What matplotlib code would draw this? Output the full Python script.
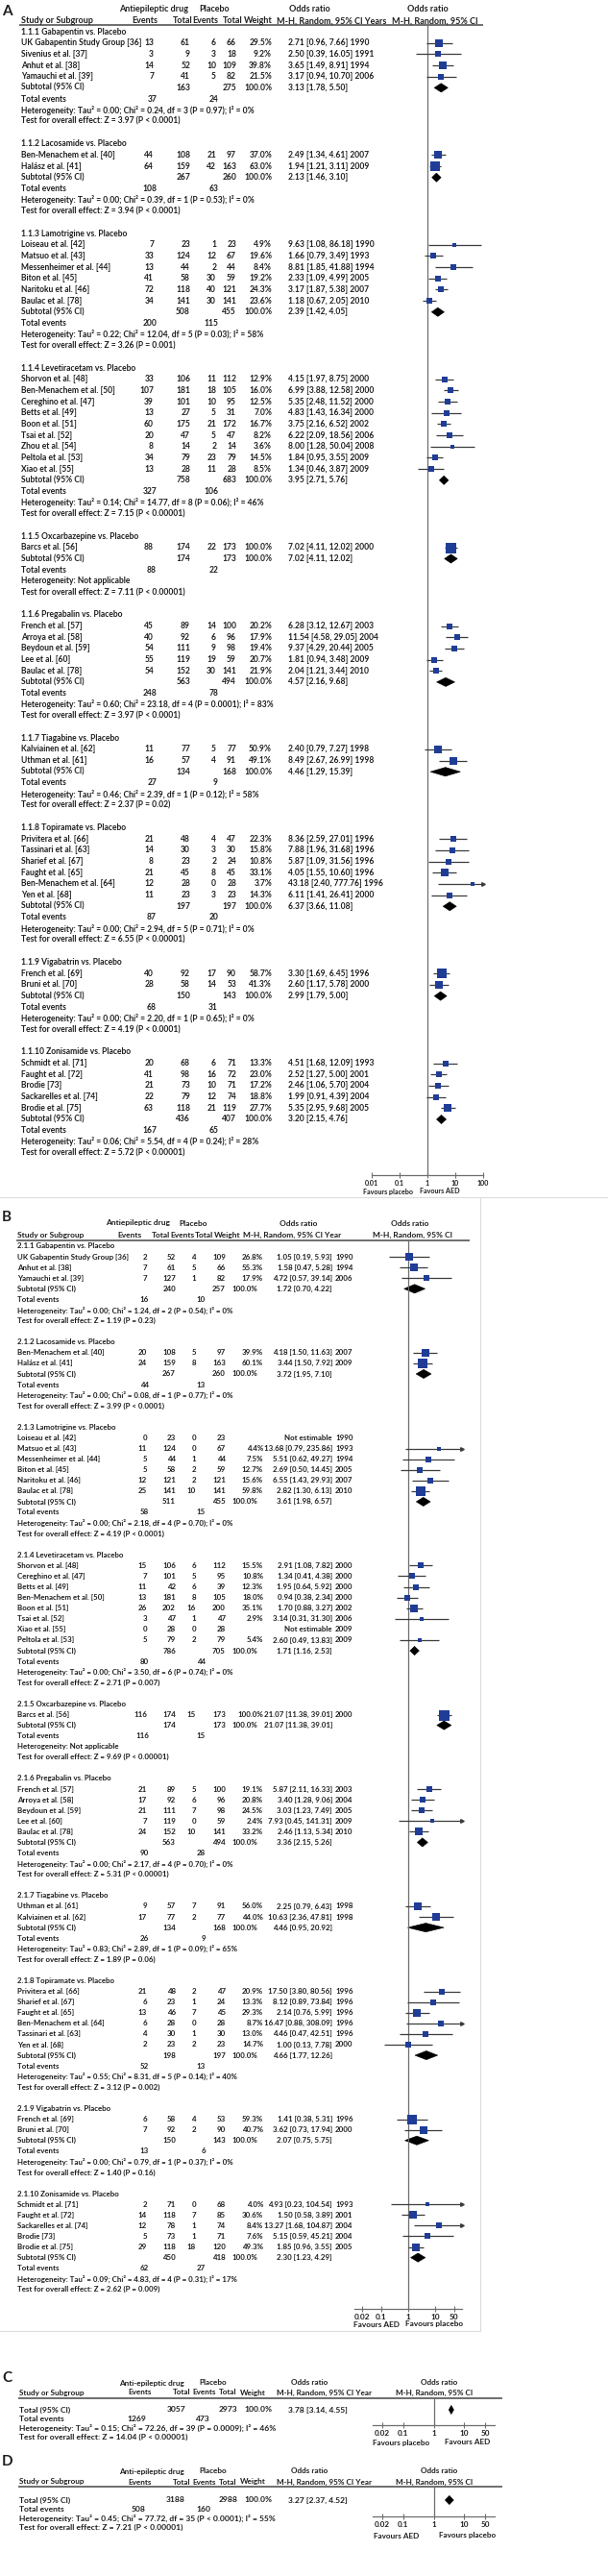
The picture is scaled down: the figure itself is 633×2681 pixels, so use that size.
import numpy as np
import matplotlib
matplotlib.use("Agg")
import matplotlib.pyplot as plt
from matplotlib.lines import Line2D
from matplotlib.patches import Polygon
from matplotlib.ticker import NullLocator
from matplotlib.transforms import blended_transform_factory

plt.rcParams['font.family'] = ['Lato', 'DejaVu Sans']

W, H = 633, 2681
INK = "#1e1e1e"; BLUE = "#1f3d96"; CIC = "#3c3c3c"; RULE = "#6e6e6e"; FRAME = "#dcdcdc"

# ---------------- panel A : responder rate ----------------
A_groups = ["1.1.1 Gabapentin vs. Placebo", "1.1.2 Lacosamide vs. Placebo", "1.1.3 Lamotrigine vs. Placebo",
            "1.1.4 Levetiracetam vs. Placebo", "1.1.5 Oxcarbazepine vs. Placebo", "1.1.6 Pregabalin vs. Placebo",
            "1.1.7 Tiagabine vs. Placebo", "1.1.8 Topiramate vs. Placebo", "1.1.9 Vigabatrin vs. Placebo",
            "1.1.10 Zonisamide vs. Placebo"]
A_study = ["UK Gabapentin Study Group [36]", "Sivenius et al. [37]", "Anhut et al. [38]", "Yamauchi et al. [39]",
           "Ben-Menachem et al. [40]", "Halász et al. [41]",
           "Loiseau et al. [42]", "Matsuo et al. [43]", "Messenheimer et al. [44]", "Biton et al. [45]",
           "Naritoku et al. [46]", "Baulac et al. [78]",
           "Shorvon et al. [48]", "Ben-Menachem et al. [50]", "Cereghino et al. [47]", "Betts et al. [49]",
           "Boon et al. [51]", "Tsai et al. [52]", "Zhou et al. [54]", "Peltola et al. [53]", "Xiao et al. [55]",
           "Barcs et al. [56]",
           "French et al. [57]", "Arroya et al. [58]", "Beydoun et al. [59]", "Lee et al. [60]", "Baulac et al. [78]",
           "Kalviainen et al. [62]", "Uthman et al. [61]",
           "Privitera et al. [66]", "Tassinari et al. [63]", "Sharief et al. [67]", "Faught et al. [65]",
           "Ben-Menachem et al. [64]", "Yen et al. [68]",
           "French et al. [69]", "Bruni et al. [70]",
           "Schmidt et al. [71]", "Faught et al. [72]", "Brodie [73]", "Sackarelles et al. [74]", "Brodie et al. [75]"]
A_grp = [0, 0, 0, 0, 1, 1, 2, 2, 2, 2, 2, 2, 3, 3, 3, 3, 3, 3, 3, 3, 3, 4, 5, 5, 5, 5, 5, 6, 6,
         7, 7, 7, 7, 7, 7, 8, 8, 9, 9, 9, 9, 9]
A_ev1 = [13, 3, 14, 7, 44, 64, 7, 33, 13, 41, 72, 34, 33, 107, 39, 13, 60, 20, 8, 34, 13, 88,
         45, 40, 54, 55, 54, 11, 16, 21, 14, 8, 21, 12, 11, 40, 28, 20, 41, 21, 22, 63]
A_n1 = [61, 9, 52, 41, 108, 159, 23, 124, 44, 58, 118, 141, 106, 181, 101, 27, 175, 47, 14, 79, 28, 174,
        89, 92, 111, 119, 152, 77, 57, 48, 30, 23, 45, 28, 23, 92, 58, 68, 98, 73, 79, 118]
A_ev2 = [6, 3, 10, 5, 21, 42, 1, 12, 2, 30, 40, 30, 11, 18, 10, 5, 21, 5, 2, 23, 11, 22,
         14, 6, 9, 19, 30, 5, 4, 4, 3, 2, 8, 0, 3, 17, 14, 6, 16, 10, 12, 21]
A_n2 = [66, 18, 109, 82, 97, 163, 23, 67, 44, 59, 121, 141, 112, 105, 95, 31, 172, 47, 14, 79, 28, 173,
        100, 96, 98, 59, 141, 77, 91, 47, 30, 24, 45, 28, 23, 90, 53, 71, 72, 71, 74, 119]
A_wt = [29.5, 9.2, 39.8, 21.5, 37.0, 63.0, 4.9, 19.6, 8.4, 19.2, 24.3, 23.6, 12.9, 16.0, 12.5, 7.0, 16.7,
        8.2, 3.6, 14.5, 8.5, 100.0, 20.2, 17.9, 19.4, 20.7, 21.9, 50.9, 49.1, 22.3, 15.8, 10.8, 33.1, 3.7,
        14.3, 58.7, 41.3, 13.3, 23.0, 17.2, 18.8, 27.7]
A_or = [2.71, 2.50, 3.65, 3.17, 2.49, 1.94, 9.63, 1.66, 8.81, 2.33, 3.17, 1.18, 4.15, 6.99, 5.35, 4.83,
        3.75, 6.22, 8.00, 1.84, 1.34, 7.02, 6.28, 11.54, 9.37, 1.81, 2.04, 2.40, 8.49, 8.36, 7.88, 5.87,
        4.05, 43.18, 6.11, 3.30, 2.60, 4.51, 2.52, 2.46, 1.99, 5.35]
A_lo = [0.96, 0.39, 1.49, 0.94, 1.34, 1.21, 1.08, 0.79, 1.85, 1.09, 1.87, 0.67, 1.97, 3.88, 2.48, 1.43,
        2.16, 2.09, 1.28, 0.95, 0.46, 4.11, 3.12, 4.58, 4.29, 0.94, 1.21, 0.79, 2.67, 2.59, 1.96, 1.09,
        1.55, 2.40, 1.41, 1.69, 1.17, 1.68, 1.27, 1.06, 0.91, 2.95]
A_hi = [7.66, 16.05, 8.91, 10.70, 4.61, 3.11, 86.18, 3.49, 41.88, 4.99, 5.38, 2.05, 8.75, 12.58, 11.52,
        16.34, 6.52, 18.56, 50.04, 3.55, 3.87, 12.02, 12.67, 29.05, 20.44, 3.48, 3.44, 7.27, 26.99, 27.01,
        31.68, 31.56, 10.60, 777.76, 26.41, 6.45, 5.78, 12.09, 5.00, 5.70, 4.39, 9.68]
A_year = [1990, 1991, 1994, 2006, 2007, 2009, 1990, 1993, 1994, 2005, 2007, 2010, 2000, 2000, 2000, 2000,
          2002, 2006, 2008, 2009, 2009, 2000, 2003, 2004, 2005, 2009, 2010, 1998, 1998, 1996, 1996, 1996,
          1996, 1996, 2000, 1996, 2000, 1993, 2001, 2004, 2004, 2005]
A_sub_n1 = [163, 267, 508, 758, 174, 563, 134, 197, 150, 436]
A_sub_n2 = [275, 260, 455, 683, 173, 494, 168, 197, 143, 407]
A_sub_or = [3.13, 2.13, 2.39, 3.95, 7.02, 4.57, 4.46, 6.37, 2.99, 3.20]
A_sub_lo = [1.78, 1.46, 1.42, 2.71, 4.11, 2.16, 1.29, 3.66, 1.79, 2.15]
A_sub_hi = [5.50, 3.10, 4.05, 5.76, 12.02, 9.68, 15.39, 11.08, 5.00, 4.76]
A_tev1 = [37, 108, 200, 327, 88, 248, 27, 87, 68, 167]
A_tev2 = [24, 63, 115, 106, 22, 78, 9, 20, 31, 65]
A_tau = [0.00, 0.00, 0.22, 0.14, None, 0.60, 0.46, 0.00, 0.00, 0.06]
A_chi = [0.24, 0.39, 12.04, 14.77, None, 23.18, 2.39, 2.94, 2.20, 5.54]
A_df = [3, 1, 5, 8, None, 4, 1, 5, 1, 4]
A_hp = ["= 0.97", "= 0.53", "= 0.03", "= 0.06", None, "= 0.0001", "= 0.12", "= 0.71", "= 0.65", "= 0.24"]
A_i2 = [0, 0, 58, 46, None, 83, 58, 0, 0, 28]
A_z = [3.97, 3.94, 3.26, 7.15, 7.11, 3.97, 2.37, 6.55, 4.19, 5.72]
A_zp = ["< 0.0001", "< 0.0001", "= 0.001", "< 0.00001", "< 0.00001", "< 0.0001", "= 0.02", "< 0.00001",
        "< 0.0001", "< 0.00001"]

# ---------------- panel B : withdrawal ----------------
B_groups = ["2.1.1 Gabapentin vs. Placebo", "2.1.2 Lacosamide vs. Placebo", "2.1.3 Lamotrigine vs. Placebo",
            "2.1.4 Levetiracetam vs. Placebo", "2.1.5 Oxcarbazepine vs. Placebo", "2.1.6 Pregabalin vs. Placebo",
            "2.1.7 Tiagabine vs. Placebo", "2.1.8 Topiramate vs. Placebo", "2.1.9 Vigabatrin vs. Placebo",
            "2.1.10 Zonisamide vs. Placebo"]
B_study = ["UK Gabapentin Study Group [36]", "Anhut et al. [38]", "Yamauchi et al. [39]",
           "Ben-Menachem et al. [40]", "Halász et al. [41]",
           "Loiseau et al. [42]", "Matsuo et al. [43]", "Messenheimer et al. [44]", "Biton et al. [45]",
           "Naritoku et al. [46]", "Baulac et al. [78]",
           "Shorvon et al. [48]", "Cereghino et al. [47]", "Betts et al. [49]", "Ben-Menachem et al. [50]",
           "Boon et al. [51]", "Tsai et al. [52]", "Xiao et al. [55]", "Peltola et al. [53]",
           "Barcs et al. [56]",
           "French et al. [57]", "Arroya et al. [58]", "Beydoun et al. [59]", "Lee et al. [60]", "Baulac et al. [78]",
           "Uthman et al. [61]", "Kalviainen et al. [62]",
           "Privitera et al. [66]", "Sharief et al. [67]", "Faught et al. [65]", "Ben-Menachem et al. [64]",
           "Tassinari et al. [63]", "Yen et al. [68]",
           "French et al. [69]", "Bruni et al. [70]",
           "Schmidt et al. [71]", "Faught et al. [72]", "Sackarelles et al. [74]", "Brodie [73]", "Brodie et al. [75]"]
B_grp = [0, 0, 0, 1, 1, 2, 2, 2, 2, 2, 2, 3, 3, 3, 3, 3, 3, 3, 3, 4, 5, 5, 5, 5, 5, 6, 6,
         7, 7, 7, 7, 7, 7, 8, 8, 9, 9, 9, 9, 9]
B_ev1 = [2, 7, 7, 20, 24, 0, 11, 5, 5, 12, 25, 15, 7, 11, 13, 26, 3, 0, 5, 116, 21, 17, 21, 7, 24, 9, 17,
         21, 6, 13, 6, 4, 2, 6, 7, 2, 14, 12, 5, 29]
B_n1 = [52, 61, 127, 108, 159, 23, 124, 44, 58, 121, 141, 106, 101, 42, 181, 202, 47, 28, 79, 174,
        89, 92, 111, 119, 152, 57, 77, 48, 23, 46, 28, 30, 23, 58, 92, 71, 118, 78, 73, 118]
B_ev2 = [4, 5, 1, 5, 8, 0, 0, 1, 2, 2, 10, 6, 5, 6, 8, 16, 1, 0, 2, 15, 5, 6, 7, 0, 10, 7, 2,
         2, 1, 7, 0, 1, 2, 4, 2, 0, 7, 1, 1, 18]
B_n2 = [109, 66, 82, 97, 163, 23, 67, 44, 59, 121, 141, 112, 95, 39, 105, 200, 47, 28, 79, 173,
        100, 96, 98, 59, 141, 91, 77, 47, 24, 45, 28, 30, 23, 53, 90, 68, 85, 74, 71, 120]
B_wt = [26.8, 55.3, 17.9, 39.9, 60.1, None, 4.4, 7.5, 12.7, 15.6, 59.8, 15.5, 10.8, 12.3, 18.0, 35.1,
        2.9, None, 5.4, 100.0, 19.1, 20.8, 24.5, 2.4, 33.2, 56.0, 44.0, 20.9, 13.3, 29.3, 8.7, 13.0, 14.7,
        59.3, 40.7, 4.0, 30.6, 8.4, 7.6, 49.3]
B_or = [1.05, 1.58, 4.72, 4.18, 3.44, None, 13.68, 5.51, 2.69, 6.55, 2.82, 2.91, 1.34, 1.95, 0.94, 1.70,
        3.14, None, 2.60, 21.07, 5.87, 3.40, 3.03, 7.93, 2.46, 2.25, 10.63, 17.50, 8.12, 2.14, 16.47, 4.46,
        1.00, 1.41, 3.62, 4.93, 1.50, 13.27, 5.15, 1.85]
B_lo = [0.19, 0.47, 0.57, 1.50, 1.50, None, 0.79, 0.62, 0.50, 1.43, 1.30, 1.08, 0.41, 0.64, 0.38, 0.88,
        0.31, None, 0.49, 11.38, 2.11, 1.28, 1.23, 0.45, 1.13, 0.79, 2.36, 3.80, 0.89, 0.76, 0.88, 0.47,
        0.13, 0.38, 0.73, 0.23, 0.58, 1.68, 0.59, 0.96]
B_hi = [5.93, 5.28, 39.14, 11.63, 7.92, None, 235.86, 49.27, 14.45, 29.93, 6.13, 7.82, 4.38, 5.92, 2.34,
        3.27, 31.30, None, 13.83, 39.01, 16.33, 9.06, 7.49, 141.31, 5.34, 6.43, 47.81, 80.56, 73.84, 5.99,
        308.09, 42.51, 7.78, 5.31, 17.94, 104.54, 3.89, 104.87, 45.21, 3.55]
B_year = [1990, 1994, 2006, 2007, 2009, 1990, 1993, 1994, 2005, 2007, 2010, 2000, 2000, 2000, 2000, 2002,
          2006, 2009, 2009, 2000, 2003, 2004, 2005, 2009, 2010, 1998, 1998, 1996, 1996, 1996, 1996, 1996,
          2000, 1996, 2000, 1993, 2001, 2004, 2004, 2005]
B_sub_n1 = [240, 267, 511, 786, 174, 563, 134, 198, 150, 450]
B_sub_n2 = [257, 260, 455, 705, 173, 494, 168, 197, 143, 418]
B_sub_or = [1.72, 3.72, 3.61, 1.71, 21.07, 3.36, 4.46, 4.66, 2.07, 2.30]
B_sub_lo = [0.70, 1.95, 1.98, 1.16, 11.38, 2.15, 0.95, 1.77, 0.75, 1.23]
B_sub_hi = [4.22, 7.10, 6.57, 2.53, 39.01, 5.26, 20.92, 12.26, 5.75, 4.29]
B_tev1 = [16, 44, 58, 80, 116, 90, 26, 52, 13, 62]
B_tev2 = [10, 13, 15, 44, 15, 28, 9, 13, 6, 27]
B_tau = [0.00, 0.00, 0.00, 0.00, None, 0.00, 0.83, 0.55, 0.00, 0.09]
B_chi = [1.24, 0.08, 2.18, 3.50, None, 2.17, 2.89, 8.31, 0.79, 4.83]
B_df = [2, 1, 4, 6, None, 4, 1, 5, 1, 4]
B_hp = ["= 0.54", "= 0.77", "= 0.70", "= 0.74", None, "= 0.70", "= 0.09", "= 0.14", "= 0.37", "= 0.31"]
B_i2 = [0, 0, 0, 0, None, 0, 65, 40, 0, 17]
B_z = [1.19, 3.99, 4.19, 2.71, 9.69, 5.31, 1.89, 3.12, 1.40, 2.62]
B_zp = ["= 0.23", "< 0.0001", "< 0.0001", "= 0.007", "< 0.00001", "< 0.00001", "= 0.06", "= 0.002",
        "= 0.16", "= 0.009"]

# ---------------- panels C, D : pooled totals ----------------
CD_n1 = [3057, 3188]
CD_n2 = [2973, 2988]
CD_or = [3.78, 3.27]
CD_lo = [3.14, 2.37]
CD_hi = [4.55, 4.52]
CD_tev1 = [1269, 508]
CD_tev2 = [473, 160]
CD_tau = [0.15, 0.45]
CD_chi = [72.26, 77.72]
CD_df = [39, 35]
CD_hp = ["= 0.0009", "< 0.0001"]
CD_i2 = [46, 55]
CD_z = [14.04, 7.21]
CD_zp = ["< 0.00001", "< 0.00001"]

# ---------------- layout (pixels, top-left origin) ----------------
LA = dict(letter="A", lxy=(2, 12), hdr1=10, hdr2=22, rule=26, rule_x=(21, 502), row0=33, pitch=11.67,
          fx=(386.7, 503), axis_y=1222.7, xlim=(0.01, 100), ticks=[0.01, 0.1, 1, 10, 100],
          ticklabels=["0.01", "0.1", "1", "10", "100"],
          fav=[("Favours placebo", 404), ("Favours AED", 458)], fav_y=1240,
          name=22, ev1=160, n1=198, ev2=225, n2=246, wt=283, sub_wt=283, tev1=163, tev2=227,
          orx=300, or_ha="left", yr=None, yr_ha="right",
          fit=("Heterogeneity: Tau² = 0.00; Chi² = 0.24, df = 3 (P = 0.97); I² = 0%", 245,
               "Study or Subgroup", 75, "Favours placebo", 52),
          h1=[("Antiepileptic drug", 160), ("Placebo", 223), ("Odds ratio", 322), ("Odds ratio", 445)],
          h2=[("Study or Subgroup", 22), ("Events", 137), ("Total", 180), ("Events", 200), ("Total", 232),
              ("Weight", 254), ("M-H, Random, 95% CI Years", 288), ("M-H, Random, 95% CI", 408)])
LB = dict(letter="B", lxy=(2, 1267), hdr1=1273, hdr2=1285, rule=1291, rule_x=(18, 488), row0=1297,
          pitch=11.08, fx=(368.6, 481.4), axis_y=2403, xlim=(0.01, 100), ticks=[0.02, 0.1, 1, 10, 50],
          ticklabels=["0.02", "0.1", "1", "10", "50"],
          fav=[("Favours AED", 392), ("Favours placebo", 452)], fav_y=2419,
          name=18, ev1=153, n1=183, ev2=204, n2=235, wt=274, sub_wt=268, tev1=155, tev2=214,
          orx=346, or_ha="right", yr=349, yr_ha="left",
          fit=("Heterogeneity: Tau² = 0.00; Chi² = 1.24, df = 2 (P = 0.54); I² = 0%", 224,
               "Study or Subgroup", 70, "Favours placebo", 60),
          h1=[("Antiepileptic drug", 143), ("Placebo", 201), ("Odds ratio", 311), ("Odds ratio", 427)],
          h2=[("Study or Subgroup", 18), ("Events", 122), ("Total", 158), ("Events", 177), ("Total", 203),
              ("Weight", 223), ("M-H, Random, 95% CI Year", 253), ("M-H, Random, 95% CI", 388)])
CD_fit = ("Heterogeneity: Tau² = 0.15; Chi² = 72.26, df = 39 (P = 0.0009); I² = 46%", 267,
          "Study or Subgroup", 68, "Favours placebo", 59)
LCD = [dict(letter="C", lxy=(2, 2475), hdr1=2480, hdr2=2490, rule=2496, rule_x=(20, 522), row0=2508,
            pitch=9.6, fx=(388, 515), axis_y=2524, fav=[("Favours placebo", 418), ("Favours AED", 487)],
            fav_y=2542, fit=CD_fit),
       dict(letter="D", lxy=(2, 2562), hdr1=2572, hdr2=2583, rule=2588, rule_x=(20, 522), row0=2602,
            pitch=9.4, fx=(388, 515), axis_y=2619, fav=[("Favours AED", 413), ("Favours placebo", 487)],
            fav_y=2639, fit=CD_fit)]
CD_cols = dict(name=20, n1=193, n2=247, wt=283, tev1=152, tev2=219, orx=300,
               h1=[("Anti-epileptic drug", 158), ("Placebo", 222), ("Odds ratio", 322), ("Odds ratio", 457)],
               h2=[("Study or Subgroup", 20), ("Events", 133), ("Total", 180), ("Events", 200),
                   ("Total", 228), ("Weight", 250), ("M-H, Random, 95% CI Year", 288),
                   ("M-H, Random, 95% CI", 412)])
# faint frame around panel B as in the source figure
FRAME_LINES = [((0, 633), (1246, 1246)), ((0, 500), (2426, 2426)), ((500, 500), (1246, 2426))]

fig = plt.figure(figsize=(W / 100, H / 100), dpi=100)
renderer = fig.canvas.get_renderer()


def fx(px):
    return px / W


def fy(py):
    return 1 - py / H


def fit_size(s, target_px):
    # font size (pt) that makes string s span target_px pixels
    t = fig.text(0, 0, s, fontsize=10, fontweight="bold")
    w = t.get_window_extent(renderer=renderer).width
    t.remove()
    return 10.0 * target_px / w


def sizes(L):
    body, bw, head, hw, fav, fw = L["fit"]
    L["fs"] = fit_size(body, bw)
    L["hfs"] = fit_size(head, hw)
    L["ffs"] = fit_size(fav, fw)


def ftext(x, y, s, size, ha="left"):
    fig.text(fx(x), fy(y), s, ha=ha, va="center", fontsize=size, fontweight="bold", color=INK)


def fline(xs, ys, lw, color):
    fig.add_artist(Line2D([fx(xs[0]), fx(xs[1])], [fy(ys[0]), fy(ys[1])], transform=fig.transFigure,
                          lw=lw, color=color))


def header(L, cols):
    ftext(L["lxy"][0], L["lxy"][1], L["letter"], 11)
    for s, x in cols["h1"]:
        ftext(x, L["hdr1"], s, L["hfs"], ha="center")
    for s, x in cols["h2"]:
        ftext(x, L["hdr2"], s, L["hfs"])
    fline(L["rule_x"], (L["rule"], L["rule"]), 1.4, RULE)


def forest_axes(L, xlim, ticks, labels):
    x0, x1 = L["fx"]
    top, bot = L["rule"], L["axis_y"]
    ax = fig.add_axes([fx(x0), fy(bot), (x1 - x0) / W, (bot - top) / H])
    ax.patch.set_visible(False)
    ax.set_xscale("log")
    ax.set_xlim(*xlim)
    ax.set_ylim((bot - L["row0"]) / L["pitch"], (top - L["row0"]) / L["pitch"])
    for s in ("top", "right", "left"):
        ax.spines[s].set_visible(False)
    ax.spines["bottom"].set_color(RULE)
    ax.spines["bottom"].set_linewidth(0.9)
    ax.set_yticks([])
    ax.set_xticks(ticks)
    ax.set_xticklabels(labels)
    ax.xaxis.set_minor_locator(NullLocator())
    ax.tick_params(axis="x", direction="inout", length=5, width=0.8, color=RULE, labelsize=L["ffs"],
                   pad=1, labelcolor=INK)
    for t in ax.get_xticklabels():
        t.set_fontweight("bold")
    ax.axvline(1, color=RULE, lw=0.9)
    for s, x in L["fav"]:
        ftext(x, L["fav_y"], s, L["ffs"], ha="center")
    return ax


def diamond(ax, est, lo, hi, r, pitch):
    h = 4.6 / pitch
    ax.add_patch(Polygon([(lo, r), (est, r - h), (hi, r), (est, r + h)], closed=True,
                         facecolor="black", edgecolor="black", lw=0.4))


def study_mark(ax, est, lo, hi, r, w):
    xmin, xmax = ax.get_xlim()
    ax.plot([max(lo, xmin), min(hi, xmax)], [r, r], color=CIC, lw=0.9, solid_capstyle="butt")
    if hi > xmax:
        ax.plot([xmax], [r], marker=">", ms=2.6, color=CIC, clip_on=False)
    side = 3.0 + 8.0 * np.sqrt(w / 100.0)
    ax.plot([est], [r], marker="s", ms=side * 0.72, color=BLUE, mec=BLUE, mew=0)


def het_text(tau, chi, df, hp, i2):
    if tau is None:
        return "Heterogeneity: Not applicable"
    return f"Heterogeneity: Tau² = {tau:.2f}; Chi² = {chi:.2f}, df = {df} (P {hp}); I² = {i2}%"


def writer(ax, L):
    tr = blended_transform_factory(fig.transFigure, ax.transData)

    def put(x, r, s, ha="left"):
        ax.text(fx(x), r, s, transform=tr, ha=ha, va="center", fontsize=L["fs"], fontweight="bold",
                color=INK)
    return put


def draw_panel(L, groups, study, grp, ev1, n1, ev2, n2, wt, est, lo, hi, year,
               sn1, sn2, sest, slo, shi, tev1, tev2, tau, chi, dfs, hp, i2, z, zp):
    sizes(L)
    header(L, L)
    ax = forest_axes(L, L["xlim"], L["ticks"], L["ticklabels"])
    put = writer(ax, L)
    r = 0
    for g, title in enumerate(groups):
        put(L["name"], r, title)
        r += 1
        for i in [k for k, gg in enumerate(grp) if gg == g]:
            put(L["name"], r, study[i])
            put(L["ev1"], r, str(ev1[i]), "right")
            put(L["n1"], r, str(n1[i]), "right")
            put(L["ev2"], r, str(ev2[i]), "right")
            put(L["n2"], r, str(n2[i]), "right")
            if est[i] is None:
                ci_txt = "Not estimable"
            else:
                ci_txt = f"{est[i]:.2f} [{lo[i]:.2f}, {hi[i]:.2f}]"
                put(L["wt"], r, f"{wt[i]:.1f}%", "right")
                study_mark(ax, est[i], lo[i], hi[i], r, wt[i])
            if L["yr"] is None:
                put(L["orx"], r, f"{ci_txt} {year[i]}", L["or_ha"])
            else:
                put(L["orx"], r, ci_txt, L["or_ha"])
                put(L["yr"], r, str(year[i]), L["yr_ha"])
            r += 1
        put(L["name"], r, "Subtotal (95% CI)")
        put(L["n1"], r, str(sn1[g]), "right")
        put(L["n2"], r, str(sn2[g]), "right")
        put(L["sub_wt"], r, "100.0%", "right")
        put(L["orx"], r, f"{sest[g]:.2f} [{slo[g]:.2f}, {shi[g]:.2f}]", L["or_ha"])
        diamond(ax, sest[g], slo[g], shi[g], r, L["pitch"])
        r += 1
        put(L["name"], r, "Total events")
        put(L["tev1"], r, str(tev1[g]), "right")
        put(L["tev2"], r, str(tev2[g]), "right")
        r += 1
        put(L["name"], r, het_text(tau[g], chi[g], dfs[g], hp[g], i2[g]))
        r += 1
        put(L["name"], r, f"Test for overall effect: Z = {z[g]:.2f} (P {zp[g]})")
        r += 2


for xs, ys in FRAME_LINES:
    fline(xs, ys, 0.8, FRAME)

draw_panel(LA, A_groups, A_study, A_grp, A_ev1, A_n1, A_ev2, A_n2, A_wt, A_or, A_lo, A_hi, A_year,
           A_sub_n1, A_sub_n2, A_sub_or, A_sub_lo, A_sub_hi, A_tev1, A_tev2,
           A_tau, A_chi, A_df, A_hp, A_i2, A_z, A_zp)
draw_panel(LB, B_groups, B_study, B_grp, B_ev1, B_n1, B_ev2, B_n2, B_wt, B_or, B_lo, B_hi, B_year,
           B_sub_n1, B_sub_n2, B_sub_or, B_sub_lo, B_sub_hi, B_tev1, B_tev2,
           B_tau, B_chi, B_df, B_hp, B_i2, B_z, B_zp)

for k, L in enumerate(LCD):
    sizes(L)
    header(L, CD_cols)
    ax = forest_axes(L, (0.01, 100), [0.02, 0.1, 1, 10, 50], ["0.02", "0.1", "1", "10", "50"])
    put = writer(ax, L)
    c = CD_cols
    put(c["name"], 0, "Total (95% CI)")
    put(c["n1"], 0, str(CD_n1[k]), "right")
    put(c["n2"], 0, str(CD_n2[k]), "right")
    put(c["wt"], 0, "100.0%", "right")
    put(c["orx"], 0, f"{CD_or[k]:.2f} [{CD_lo[k]:.2f}, {CD_hi[k]:.2f}]")
    diamond(ax, CD_or[k], CD_lo[k], CD_hi[k], 0, L["pitch"])
    put(c["name"], 1, "Total events")
    put(c["tev1"], 1, str(CD_tev1[k]), "right")
    put(c["tev2"], 1, str(CD_tev2[k]), "right")
    put(c["name"], 2, het_text(CD_tau[k], CD_chi[k], CD_df[k], CD_hp[k], CD_i2[k]))
    put(c["name"], 3, f"Test for overall effect: Z = {CD_z[k]:.2f} (P {CD_zp[k]})")

fig.savefig("out.png", dpi=100, facecolor="white")
